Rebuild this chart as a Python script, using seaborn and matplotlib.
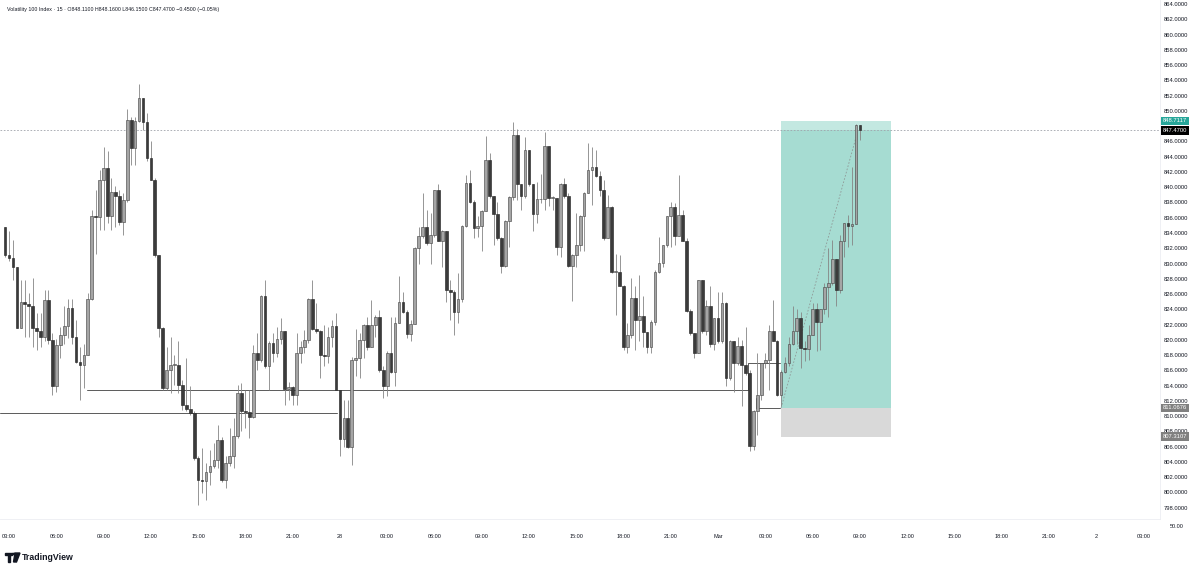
import numpy as np
import pandas as pd
import seaborn as sns
import matplotlib.pyplot as plt
import matplotlib.transforms as mtransforms
from matplotlib.patches import Rectangle, Circle, Polygon

# 15 min candles, Volatility 100 Index, 27 Feb 02:45 -> 1 Mar 09:00
first_open = 834.8
closes = [
    831.1, 830.7, 829.6, 821.5, 825.0, 824.7, 824.4, 821.6, 821.2, 820.4, 825.2, 820.0, 813.9, 819.3, 820.6,
    821.8, 824.2, 820.3, 817.1, 816.7, 818.0, 825.4, 836.2, 836.1, 841.0, 842.5, 836.2, 839.4, 838.9, 835.4,
    838.3, 848.8, 845.1, 848.7, 851.7, 848.6, 843.8, 841.0, 831.1, 821.5, 813.7, 816.1, 816.7, 816.7, 814.1,
    811.5, 810.9, 810.4, 804.5, 801.6, 801.5, 802.7, 803.5, 804.3, 806.9, 801.6, 803.8, 804.7, 807.4, 813.0,
    810.6, 810.5, 809.9, 818.3, 817.3, 825.8, 816.5, 819.6, 818.2, 820.1, 821.1, 813.5, 813.8, 812.8, 818.3,
    819.1, 820.0, 825.4, 821.4, 821.2, 818.0, 817.9, 820.3, 821.8, 813.4, 807.0, 809.7, 806.0, 817.4, 817.6,
    820.0, 821.9, 819.1, 821.9, 823.0, 816.1, 813.9, 818.3, 815.8, 822.2, 825.0, 823.7, 820.8, 822.1, 832.0,
    833.6, 834.8, 832.7, 833.8, 839.6, 833.0, 834.2, 826.5, 826.2, 823.6, 825.3, 834.9, 840.5, 838.1, 834.6,
    834.9, 836.9, 843.6, 838.8, 836.5, 833.4, 829.7, 835.6, 838.7, 846.9, 840.4, 838.8, 844.9, 840.4, 836.5,
    838.4, 838.4, 845.4, 838.6, 838.6, 832.2, 840.4, 838.8, 829.7, 831.1, 832.4, 836.2, 839.3, 842.2, 842.7,
    841.5, 839.7, 833.3, 837.4, 828.9, 828.9, 827.0, 819.0, 820.6, 825.5, 822.6, 823.1, 821.0, 819.1, 822.3,
    828.9, 830.1, 832.4, 836.2, 837.4, 833.6, 836.4, 833.0, 823.8, 820.9, 818.3, 827.9, 821.1, 824.4, 819.5,
    822.8, 819.8, 824.8, 815.0, 819.8, 816.9, 819.2, 816.7, 815.6, 806.1, 810.6, 812.7, 816.9, 817.4, 821.1,
    819.9, 812.7, 815.8, 816.9, 819.4, 821.1, 822.8, 818.9, 818.8, 820.6, 824.0, 822.3, 824.0, 826.9, 827.4,
    830.6, 826.5, 832.9, 835.3, 834.9, 835.2, 848.11, 847.47,
]
highs = [
    834.8, 834.2, 833.1, 829.6, 827.9, 827.9, 826.1, 828.1, 823.5, 823.5, 826.5, 826.5, 820.9, 820.1, 821.7,
    824.4, 825.4, 825.3, 822.6, 819.1, 819.5, 826.1, 837.0, 839.6, 842.3, 845.3, 844.7, 841.2, 840.1, 839.6,
    839.2, 850.3, 849.2, 849.2, 853.6, 851.7, 849.7, 846.0, 841.2, 831.1, 821.7, 819.1, 820.4, 818.0, 819.8,
    814.7, 817.6, 813.9, 810.6, 804.7, 805.8, 803.8, 805.6, 806.4, 808.8, 807.3, 804.7, 808.4, 809.7, 814.1,
    814.3, 813.4, 813.4, 819.3, 820.9, 825.9, 827.9, 819.8, 820.9, 821.7, 822.8, 820.9, 814.5, 813.9, 820.9,
    819.8, 821.3, 825.5, 827.9, 824.8, 821.3, 822.0, 821.7, 822.6, 823.5, 813.4, 812.1, 812.1, 817.8, 821.4,
    820.9, 822.1, 823.0, 825.2, 823.3, 823.9, 816.5, 818.5, 823.0, 823.0, 828.3, 826.3, 823.9, 822.6, 832.2,
    834.8, 839.3, 837.0, 836.6, 839.7, 840.4, 834.4, 834.2, 827.9, 826.5, 828.7, 835.1, 841.6, 842.3, 838.3,
    836.2, 837.0, 846.7, 844.5, 838.4, 838.1, 833.5, 835.7, 838.8, 848.6, 847.6, 840.3, 846.6, 844.7, 840.4,
    840.7, 841.8, 847.3, 845.3, 838.8, 838.6, 840.5, 841.2, 839.3, 831.3, 836.6, 836.4, 839.4, 845.8, 845.3,
    844.9, 842.1, 841.0, 839.0, 837.5, 831.3, 831.1, 827.2, 822.2, 828.1, 827.0, 828.5, 825.7, 820.9, 822.6,
    829.2, 833.5, 832.4, 836.2, 838.1, 837.9, 841.6, 837.0, 833.3, 824.1, 820.9, 827.9, 827.9, 825.2, 827.0,
    822.8, 826.3, 826.3, 824.9, 820.0, 819.3, 820.4, 820.0, 821.7, 816.1, 810.8, 818.2, 816.9, 818.2, 822.0,
    825.2, 820.0, 816.1, 817.8, 820.4, 824.4, 824.1, 823.7, 819.8, 822.0, 824.8, 824.8, 824.1, 827.4, 832.0,
    833.1, 830.5, 833.7, 835.3, 836.4, 842.7, 848.3, 848.16,
]
lows = [
    830.9, 830.3, 827.9, 821.5, 821.5, 820.4, 820.4, 819.1, 818.7, 819.1, 819.8, 819.5, 812.8, 813.2, 817.6,
    819.5, 820.2, 819.5, 816.9, 812.1, 813.7, 818.0, 825.2, 831.3, 834.4, 834.4, 835.3, 834.4, 834.8, 835.1,
    833.7, 838.1, 842.9, 842.9, 848.6, 847.5, 843.4, 840.9, 830.9, 820.4, 813.4, 813.4, 813.0, 814.1, 813.0,
    810.8, 810.6, 810.2, 804.3, 798.4, 799.9, 799.0, 801.0, 803.2, 803.2, 801.4, 800.5, 803.4, 803.2, 807.1,
    808.0, 808.4, 807.1, 809.7, 816.1, 817.1, 816.3, 813.4, 817.1, 817.8, 819.5, 811.5, 812.1, 811.5, 811.5,
    816.9, 818.2, 819.6, 821.3, 820.9, 815.0, 816.5, 816.9, 819.1, 813.4, 804.7, 806.0, 805.8, 803.6, 815.2,
    815.0, 817.6, 818.7, 819.1, 820.4, 815.8, 812.3, 812.6, 815.6, 814.0, 822.2, 823.5, 820.2, 819.8, 822.3,
    830.0, 833.3, 832.4, 830.0, 833.5, 832.9, 829.6, 825.0, 822.6, 820.6, 822.2, 825.0, 834.8, 837.9, 833.3,
    833.5, 831.6, 837.2, 838.6, 832.4, 833.1, 828.7, 829.6, 832.2, 838.3, 838.3, 837.0, 838.6, 840.1, 834.2,
    835.3, 837.9, 837.0, 837.5, 837.0, 831.1, 830.9, 838.6, 829.6, 825.1, 829.6, 831.6, 831.6, 839.2, 837.7,
    841.4, 838.8, 833.1, 833.3, 828.7, 823.3, 827.0, 818.7, 818.2, 820.2, 818.7, 819.8, 819.1, 818.2, 818.2,
    822.0, 828.7, 829.5, 832.2, 832.2, 832.4, 834.2, 832.9, 823.7, 820.6, 817.6, 818.2, 820.9, 820.6, 819.1,
    818.7, 819.6, 819.6, 813.9, 814.7, 813.2, 816.7, 811.3, 815.4, 805.4, 805.6, 807.5, 812.1, 816.3, 813.4,
    819.8, 812.6, 811.3, 815.6, 816.5, 819.3, 819.5, 816.3, 817.2, 817.4, 820.9, 818.5, 818.7, 823.4, 823.0,
    827.2, 824.4, 826.1, 830.9, 832.2, 832.4, 835.3, 846.15,
]

# drawn levels and the long position tool
level_a = 810.4
level_b = 813.4
level_b_step = 817.0
entry_price = 811.0676
target_price = 848.7117
stop_price = 807.3107
last_price = 847.47

price_ticks = [p for p in range(798, 866, 2) if p != 848]
time_labels = ["03:00", "06:00", "09:00", "12:00", "15:00", "18:00", "21:00", "28",
               "03:00", "06:00", "09:00", "12:00", "15:00", "18:00", "21:00", "Mar",
               "03:00", "06:00", "09:00", "12:00", "15:00", "18:00", "21:00", "2",
               "03:00"]
title = "Volatility 100 Index · 15 · O848.1100 H848.1600 L846.1500 C847.4700 −0.4500 (−0.05%)"

sns.set_theme(style="white")
plt.rcParams["font.family"] = ["Liberation Sans", "DejaVu Sans"]

df = pd.DataFrame({"close": closes, "high": highs, "low": lows})
df["open"] = df["close"].shift(1).fillna(first_open)
df["high"] = df[["high", "open", "close"]].max(axis=1)
df["low"] = df[["low", "open", "close"]].min(axis=1)
df["x"] = np.arange(len(df))
up = df["close"] >= df["open"]

fig = plt.figure(figsize=(12, 5.7), dpi=100)
ax = fig.add_axes([0, 1 - 519 / 570, 1160 / 1200, 519 / 570])
ax.set_xlim(-1.3, 293.2)
ax.set_ylim(796.5, 864.55)

# position tool box
box_x0, box_x1 = 197, 224.9
ax.add_patch(Rectangle((box_x0, entry_price), box_x1 - box_x0, last_price - entry_price,
                       facecolor="#a6dcd2", edgecolor="none", zorder=0))
ax.add_patch(Rectangle((box_x0, last_price), box_x1 - box_x0, target_price - last_price,
                       facecolor="#c3e8e1", edgecolor="none", zorder=0))
ax.add_patch(Rectangle((box_x0, stop_price), box_x1 - box_x0, entry_price - stop_price,
                       facecolor="#d9d9d9", edgecolor="none", zorder=0))

# current price line
ax.axhline(last_price, color="#a0a3ab", lw=0.6, ls=(0, (2, 2)), zorder=1)

# horizontal levels
sns.lineplot(x=[-1.3, 84.3], y=[level_a, level_a], ax=ax, color="#5a5a5a", lw=0.7, zorder=2)
ax.plot([20.8, 188.7, 188.7, 196.8], [level_b, level_b, level_b_step, level_b_step],
        color="#5a5a5a", lw=0.7, zorder=2)
ax.plot([190.6, 190.6, 196.8], [812.4, entry_price, entry_price], color="#5a5a5a", lw=0.7, zorder=2)
sns.lineplot(x=[197, 216], y=[entry_price, 846.5], ax=ax, color="#8f9a98", lw=0.6,
             linestyle=(0, (2, 2)), zorder=2)

# candles
ax.vlines(df["x"], df["low"], df["high"], color="#858585", lw=0.6, zorder=3)
body_h = (df["close"] - df["open"]).abs().clip(lower=0.12)
body_b = df[["open", "close"]].min(axis=1)
ax.bar(df["x"][up], body_h[up], bottom=body_b[up], width=0.68, color="#a5a5a5",
       edgecolor="#4d4d4d", linewidth=0.45, zorder=4)
ax.bar(df["x"][~up], body_h[~up], bottom=body_b[~up], width=0.68, color="#3b3b3b",
       edgecolor="#2a2a2a", linewidth=0.45, zorder=4)

# axes styling
for s in ["top", "left"]:
    ax.spines[s].set_visible(False)
ax.spines["right"].set_color("#eceef2")
ax.spines["bottom"].set_color("#eceef2")
ax.spines["right"].set_linewidth(0.6)
ax.spines["bottom"].set_linewidth(0.6)

ax.yaxis.tick_right()
ax.set_yticks(price_ticks)
ax.set_yticklabels([f"{p:.4f}" for p in price_ticks])
tick_idx = [1 + 12 * i for i in range(len(time_labels))]
ax.set_xticks(tick_idx)
ax.set_xticklabels(time_labels)
ax.tick_params(axis="y", length=0, labelsize=4.2, colors="#131722", pad=3)
ax.tick_params(axis="x", length=0, labelsize=4.0, colors="#131722", pad=11)
ax.grid(False)

# price axis markers
trans = mtransforms.blended_transform_factory(ax.transAxes, ax.transData)
marks = [(target_price, "#26a69a"), (last_price, "#000000"),
         (entry_price, "#808080"), (stop_price, "#808080")]
for price, col in marks:
    ax.text(1.0026, price, f"{price:.4f}", transform=trans, ha="left", va="center",
            fontsize=4.2, color="white", clip_on=False,
            bbox=dict(boxstyle="square,pad=0.3", fc=col, ec="none"))

fig.text(1170 / 1200, 1 - 526 / 570, "50.00", fontsize=4.0, color="#131722", va="center")
fig.text(7 / 1200, 1 - 10 / 570, title, fontsize=3.8, color="#131722", va="center")

# TradingView logo
fig.patches.append(Rectangle((5 / 1200, 1 - 555 / 570), 7 / 1200, 2.2 / 570,
                             transform=fig.transFigure, color="#131722"))
fig.patches.append(Rectangle((8 / 1200, 1 - 562 / 570), 2.4 / 1200, 7 / 570,
                             transform=fig.transFigure, color="#131722"))
fig.patches.append(Circle((13.5 / 1200, 1 - 554 / 570), 1.3 / 1200,
                          transform=fig.transFigure, color="#131722"))
fig.patches.append(Polygon([(15 / 1200, 1 - 553 / 570), (20 / 1200, 1 - 553 / 570),
                            (16.5 / 1200, 1 - 562 / 570), (13.5 / 1200, 1 - 562 / 570)],
                           closed=True, transform=fig.transFigure, color="#131722"))
fig.text(22 / 1200, 1 - 557 / 570, "TradingView", fontsize=6.3, fontweight="bold",
         color="#131722", va="center")

fig.savefig("out.png", dpi=100, facecolor="white")
